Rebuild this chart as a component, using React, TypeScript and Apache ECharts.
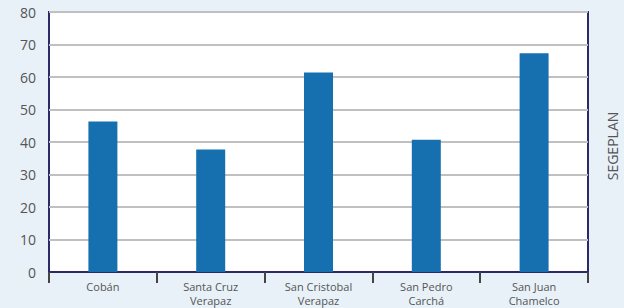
import React, { useEffect, useRef } from "react";
import * as echarts from "echarts";

const categories = ["Cobán", "Santa Cruz\nVerapaz", "San Cristobal\nVerapaz", "San Pedro\nCarchá", "San Juan\nChamelco"];
const values = [46.3, 37.7, 61.4, 40.7, 67.3];
const sourceLabel = "SEGEPLAN";

export default function App() {
  const ref = useRef<HTMLDivElement>(null);
  useEffect(() => {
    const chart = echarts.init(ref.current!, null, { renderer: "svg" });
    chart.setOption({
      animation: false,
      backgroundColor: "#e8f1f8",
      grid: {
        left: 49,
        right: 36,
        top: 12,
        bottom: 36,
        show: true,
        backgroundColor: "#ffffff",
        borderColor: "#2b2968",
        borderWidth: 2,
      },
      xAxis: {
        type: "category",
        data: categories,
        boundaryGap: true,
        axisLine: { lineStyle: { color: "#2b2968", width: 2 } },
        axisTick: { show: true, length: 11, lineStyle: { color: "#444444", width: 2 } },
        axisLabel: {
          color: "#555555",
          fontSize: 11,
          lineHeight: 14,
          margin: 7,
          fontFamily: "Open Sans",
          interval: 0,
        },
      },
      yAxis: {
        type: "value",
        min: 0,
        max: 80,
        interval: 10,
        axisLine: { show: false },
        axisTick: { show: false },
        axisLabel: { color: "#555555", fontSize: 14, margin: 13, fontFamily: "Open Sans" },
        splitLine: { lineStyle: { color: "#c0c0c0", width: 2 } },
      },
      series: [
        {
          type: "bar",
          data: values,
          barWidth: 29,
          itemStyle: { color: "#1670b0" },
        },
      ],
      graphic: [
        {
          type: "text",
          x: 612,
          y: 146,
          rotation: Math.PI / 2,
          style: {
            text: sourceLabel,
            fill: "#555555",
            fontSize: 14,
            fontFamily: "Open Sans",
            align: "center",
            verticalAlign: "middle",
          },
        },
      ],
    });
    return () => chart.dispose();
  }, []);
  return <div ref={ref} style={{ width: 624, height: 308, position: "absolute", left: 0, top: 0 }} />;
}
